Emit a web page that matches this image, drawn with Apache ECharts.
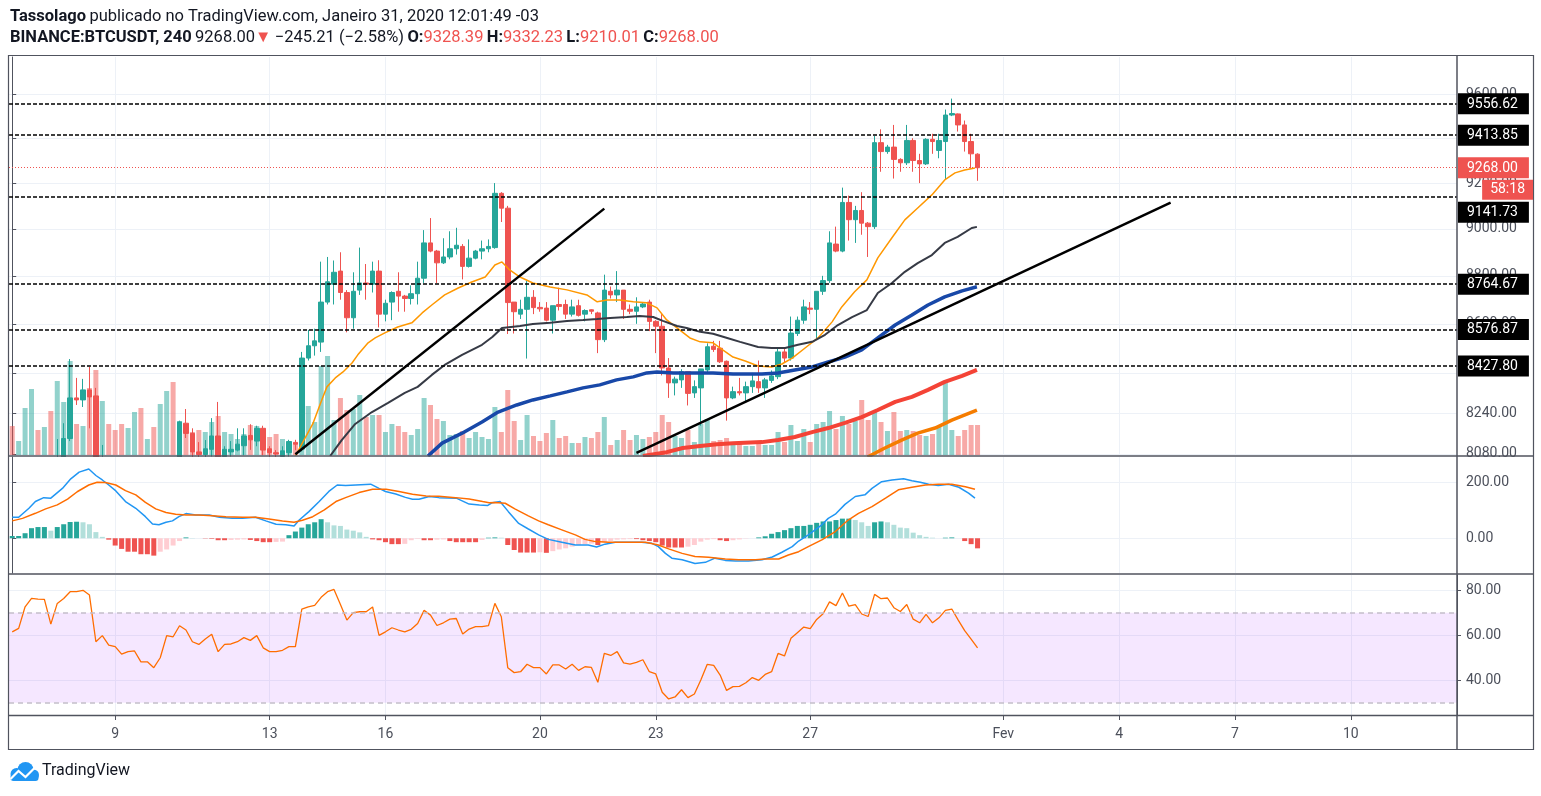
<!DOCTYPE html>
<html lang="pt-BR">
<head>
<meta charset="UTF-8">
<title>BINANCE:BTCUSDT, 240</title>
<style>
  html, body { margin: 0; padding: 0; background: #fff; }
  #chart { width: 1541px; height: 796px; }
</style>
<script src="https://cdn.jsdelivr.net/npm/echarts@6/dist/echarts.min.js"></script>
</head>
<body>
<div id="chart"></div>
<script>
// ---- data (4h candles, index 0 = 6 Jan 08:00) ----
var opens = [
  7790,7760,7785,7850,7930,7905,7960,7935,8060,8140,
  8300,8292,8332,8308,8050,8065,8000,7950,7880,7910,
  7960,7920,7940,7900,7960,8040,7980,8200,8160,8088,
  8078,8098,8150,8070,8088,8095,8112,8152,8130,8180,
  8100,8085,8070,8085,8125,8099,8460,8510,8525,8690,
  8765,8820,8730,8625,8740,8770,8765,8820,8640,8690,
  8735,8715,8705,8725,8790,8940,8905,8855,8880,8915,
  8925,8840,8875,8905,8915,8920,9155,9090,8690,8640,
  8660,8710,8668,8665,8615,8680,8680,8640,8675,8640,
  8658,8645,8535,8735,8720,8740,8660,8652,8670,8690,
  8610,8590,8420,8360,8372,8405,8320,8340,8412,8508,
  8500,8447,8300,8325,8320,8345,8365,8340,8370,8385,
  8485,8460,8560,8615,8665,8660,8735,8780,8935,8905,
  9115,9040,9080,9025,9010,9380,9340,9360,9305,9290,
  9390,9300,9285,9395,9345,9385,9505,9510,9460,9385,
  9328.39
];
var closes = [
  7760,7785,7850,7930,7905,7960,7935,8060,8140,8300,
  8292,8332,8304,8050,8065,8000,7950,7880,7910,7960,
  7920,7940,7900,7960,8040,7980,8205,8160,8088,8078,
  8100,8150,8060,8098,8098,8118,8150,8135,8180,8095,
  8085,8080,8092,8128,8118,8460,8510,8530,8690,8775,
  8815,8730,8625,8735,8770,8765,8820,8640,8685,8730,
  8715,8705,8725,8790,8940,8905,8855,8880,8915,8930,
  8840,8875,8905,8915,8925,9155,9090,8688,8650,8660,
  8710,8667,8662,8615,8675,8672,8640,8670,8635,8655,
  8652,8535,8740,8720,8740,8660,8652,8670,8682,8610,
  8590,8420,8360,8375,8405,8318,8345,8416,8506,8495,
  8445,8300,8325,8320,8345,8368,8340,8372,8388,8485,
  8460,8562,8615,8670,8660,8735,8780,8940,8905,9115,
  9040,9080,9025,9010,9380,9340,9360,9305,9290,9390,
  9300,9285,9395,9385,9390,9505,9512,9460,9385,9330,
  9268
];
var lows = [
  7740,7745,7770,7840,7890,7895,7920,7920,8040,8130,
  8272,8264,8180,8000,7980,7960,7900,7850,7860,7900,
  7900,7905,7880,7890,7950,7970,7970,8142,8060,8050,
  8060,8070,8040,8060,8070,8090,8075,8096,8110,8075,
  8060,8050,8050,8070,8095,8090,8450,8470,8485,8680,
  8680,8700,8565,8580,8720,8700,8730,8585,8610,8615,
  8650,8650,8680,8680,8770,8900,8770,8850,8870,8890,
  8785,8835,8870,8870,8900,8915,9030,8558,8560,8620,
  8458,8640,8650,8610,8560,8655,8620,8630,8630,8610,
  8640,8480,8525,8705,8690,8620,8640,8600,8665,8570,
  8480,8390,8300,8310,8340,8270,8300,8190,8400,8485,
  8440,8210,8295,8310,8280,8320,8320,8300,8360,8375,
  8440,8450,8550,8600,8640,8534,8720,8770,8900,8900,
  8950,8940,8975,8880,9000,9250,9330,9220,9250,9280,
  9250,9200,9280,9330,9310,9215,9500,9430,9340,9265,
  9210.01
];
var highs = [
  7820,7800,7860,7945,7940,7975,7975,8138,8200,8456,
  8380,8376,8424,8340,8115,8075,8010,7960,7920,7975,
  7970,7950,7950,7970,8060,8070,8210,8256,8180,8126,
  8134,8220,8284,8110,8130,8180,8180,8196,8190,8190,
  8110,8095,8110,8135,8135,8485,8575,8580,8860,8880,
  8865,8900,8740,8815,8920,8850,8860,8866,8700,8735,
  8815,8720,8760,8860,8995,9047,8910,8960,8990,9005,
  8935,8955,8910,8950,8955,9200,9160,9100,8690,8700,
  8778,8740,8690,8690,8675,8750,8700,8700,8700,8660,
  8660,8650,8805,8755,8820,8740,8680,8710,8690,8700,
  8615,8640,8460,8385,8415,8405,8370,8416,8520,8530,
  8530,8450,8345,8380,8365,8400,8450,8380,8410,8500,
  8500,8630,8630,8700,8690,8735,8800,8990,9010,9180,
  9145,9100,9160,9030,9410,9440,9370,9460,9310,9460,
  9400,9330,9400,9420,9420,9530,9580,9512,9480,9420,
  9332.23
];
var volumes = [
  1160,560,1880,2640,1000,1120,1760,2960,2120,3760,
  1240,1160,2680,3400,2160,1240,1000,1240,1080,1720,
  1880,640,1120,2040,2560,2920,1360,1240,920,1000,
  920,1320,1560,920,840,640,840,1200,1160,800,
  720,840,640,560,440,2400,1960,1320,3560,3960,
  1400,2280,1800,1840,2400,1520,1600,1600,920,1240,
  1160,920,800,1040,2280,2000,1440,1360,800,840,
  960,680,920,720,640,1920,920,2600,1360,600,
  1600,760,560,880,1400,680,760,480,480,720,
  680,920,1520,400,600,1000,600,800,640,720,
  920,1600,1320,760,680,1000,520,1240,1440,560,
  600,680,400,480,360,360,440,400,400,920,
  520,1200,560,1040,520,1240,1320,1760,1040,1560,
  1240,1360,2200,1400,1720,1320,960,1720,960,1000,
  960,800,760,840,1120,2920,1000,760,1000,1200,
  1200
];

// moving averages: [bar index, price]
var ema20 = [[44,8072],[45.5,8142],[46.7,8197],[48.1,8292],[48.9,8344],[50.2,8380],[51.4,8404],[52.8,8440],[53.7,8473],[55.3,8522],[56.4,8542],[57.9,8563],[59.9,8587],[62.1,8604],[63.7,8645],[65.2,8678],[67.2,8720],[69.3,8749],[71.4,8774],[73.5,8795],[75,8846],[76.1,8859],[77.3,8825],[78.9,8795],[80.9,8770],[83.6,8753],[86.2,8741],[89.3,8720],[90.9,8691],[92.4,8699],[94.4,8699],[96.5,8691],[98.6,8687],[100.2,8666],[101.7,8616],[103.3,8583],[105.3,8542],[106.9,8526],[108.9,8522],[110.4,8493],[112,8464],[113.9,8448],[115.9,8428],[118,8424],[119.6,8436],[121.2,8460],[123.2,8501],[125.2,8542],[127.4,8608],[128.9,8670],[130.9,8733],[132.8,8783],[134.5,8876],[136.7,8962],[138.7,9039],[140.7,9091],[142.9,9148],[144.9,9214],[146.5,9245],[148,9258],[149.6,9267]];
var ma50 = [[49.4,8072],[51.2,8134],[53.3,8197],[55.9,8244],[58.4,8280],[61,8320],[63,8344],[65.2,8392],[67.2,8432],[69.9,8473],[73,8514],[74.6,8546],[76.1,8583],[78.9,8591],[80.9,8599],[83.6,8604],[86.2,8612],[88.7,8616],[90.9,8620],[92.9,8624],[95.5,8628],[97.5,8632],[99.6,8628],[101.1,8612],[103.3,8591],[104.8,8583],[106.9,8567],[108.9,8559],[111.1,8542],[113.1,8526],[115.9,8505],[118,8501],[120.1,8501],[122.1,8514],[124.3,8526],[126.3,8555],[128.3,8595],[130.5,8628],[132.8,8657],[134.5,8728],[136.7,8770],[138.7,8817],[140.7,8854],[142.9,8888],[144.9,8940],[146.9,8966],[149.1,9004],[149.9,9009]];
var ma100 = [[64.6,8072],[66.8,8122],[69.9,8161],[73,8205],[75.5,8244],[78.4,8272],[80.9,8292],[83.6,8308],[86.2,8324],[88.7,8340],[91.3,8352],[93.9,8372],[96.5,8384],[98.6,8400],[100.2,8404],[102.7,8400],[105.8,8400],[108.9,8400],[112,8396],[116.5,8396],[119,8400],[121.6,8412],[124.3,8424],[126.8,8444],[129.4,8464],[132,8493],[134.5,8542],[137.2,8595],[139.8,8636],[142.3,8678],[144.9,8712],[147.6,8737],[149.9,8754]];
var ma200 = [[98,8072],[101.7,8087],[104.2,8103],[106.9,8111],[109.5,8118],[112,8122],[116.5,8126],[119,8134],[121.6,8146],[124.3,8165],[126.8,8181],[129.4,8201],[132,8224],[134.5,8252],[137.2,8284],[139.8,8304],[142.3,8332],[144.9,8364],[147.6,8388],[149.9,8412]];
var maSlow = [[132.9,8068],[135.6,8103],[138.2,8134],[140.7,8161],[143.4,8181],[146,8212],[149.9,8252]];

// drawn levels and trend lines
var levels = [9556.62, 9413.85, 9141.73, 8764.67, 8576.87, 8427.80];
var lastPrice = 9268.00;
var trend1 = [[44, 8079], [92, 9088]];
var trend2 = [[97, 8084], [180, 9114]];

// MACD
var macdLine = [[0,75],[1,75],[2.6,107],[3.6,131],[4.9,145],[6,143],[7.8,178],[9.1,212],[10.4,236],[11.9,247],[13,224],[14,208],[15,190],[16.1,169],[17.6,131],[19.2,107],[20.7,77],[21.8,51],[22.8,48],[23.9,57],[24.9,62],[25.9,77],[27,88],[28.5,83],[30.6,83],[32.2,75],[34.2,71],[35.8,71],[37.8,75],[39.4,62],[41,50],[42.5,48],[43.8,44],[44.6,65],[46.1,95],[47.7,131],[49.2,167],[50.5,190],[51.8,188],[53.4,190],[55.7,193],[57,178],[58,167],[59.6,158],[61.1,146],[62.2,139],[63.2,139],[64.8,149],[66.3,145],[69,143],[71,122],[72.6,119],[73.9,117],[74.6,127],[75.8,131],[77.1,95],[78.7,53],[80.2,33],[81.8,12],[83.3,-4],[85.4,-14],[87.5,-24],[89.5,-24],[90.8,-31],[92.1,-21],[93.7,-14],[95.8,-14],[97.8,-14],[99.4,-18],[100.4,-30],[101.5,-54],[102.5,-71],[104.1,-77],[106.1,-90],[107.7,-86],[109.2,-71],[110.8,-79],[112.4,-81],[114.4,-81],[116.5,-77],[118.1,-67],[119.6,-50],[121.2,-30],[122.2,-10],[123.7,12],[125.8,48],[126.8,71],[127.9,86],[129.4,121],[131,149],[132.5,155],[133.6,178],[135.1,202],[136.7,208],[138.5,212],[139.8,205],[141.1,200],[142.4,193],[143.9,188],[145.5,193],[147.1,182],[148.6,161],[149.6,143]];
var signalLine = [[0,62],[1.6,71],[3.6,89],[5.2,105],[7,119],[8.6,140],[10.1,166],[11.9,190],[13.2,200],[14.5,199],[16.1,190],[17.6,170],[19.2,155],[20.7,128],[22.3,105],[23.9,92],[25.4,86],[27,83],[29,83],[31.1,80],[33.2,77],[35.8,75],[37.8,75],[39.9,69],[42,62],[43.8,57],[45.1,64],[46.7,77],[48.5,101],[50.3,131],[51.8,145],[53.9,163],[56,175],[58.1,175],[60.1,167],[62.2,157],[64.3,151],[66.3,150],[68.9,145],[71,140],[73.1,131],[74.1,127],[75,128],[76.6,125],[78.1,105],[80.2,80],[81.8,62],[83.3,48],[85.4,30],[87.5,12],[89,-4],[90.6,-12],[92.7,-14],[95.8,-14],[98.4,-14],[100.4,-24],[102,-38],[104.1,-54],[106.1,-65],[108.2,-68],[110.8,-74],[112.9,-77],[115.5,-77],[117,-74],[119.1,-74],[120.6,-60],[122.2,-48],[123.7,-30],[125.8,-6],[127.9,24],[129.9,65],[131.5,89],[133.6,113],[135.7,143],[137.7,173],[139.8,182],[141.9,190],[143.9,193],[146,193],[148.1,184],[149.6,175]];
var macdHist = [
  8,8,18,36,40,40,27,40,50,58,
  59,57,50,22,5,-5,-26,-38,-48,-48,
  -57,-57,-62,-48,-40,-26,-10,3,1,0,
  -1,-2,-7,-7,-6,-5,-4,-6,-10,-14,
  -14,-13,-12,11,24,38,50,57,68,57,
  46,44,31,27,21,5,-4,-7,-14,-21,
  -21,-20,-7,-2,-7,-7,-5,-4,-10,-14,
  -14,-14,-14,-6,2,3,2,-24,-42,-51,
  -51,-51,-50,-52,-46,-40,-36,-30,-24,-21,
  -19,-24,-14,-10,-5,-4,-3,-3,-7,-10,
  -14,-26,-33,-33,-33,-30,-24,-12,-5,-3,
  -7,-10,-7,-4,-1,0,3,7,16,22,
  29,36,44,44,48,55,60,60,65,70,
  70,65,57,44,57,60,57,48,38,36,
  20,11,5,2,0,2,3,0,-10,-21,
  -36
];

// RSI
var rsi = [
  61.5,63,72.6,76.3,76,75.9,64.9,74.1,76.3,79.3,
  79.3,79.9,77.8,57.1,59.8,55.6,54.9,51.6,52.7,53,
  48.2,48.2,45.6,50,59.8,59.3,64.2,62.3,57.1,55.9,
  58.3,60.4,52.7,55.9,56.1,57.1,58.9,57.7,59.8,54.4,
  52.7,52.7,53.3,54.9,54.9,71.6,72.6,73.2,76.8,79.3,
  80.3,73.6,66.7,70,70.4,70.4,72.5,59.9,61.5,63.3,
  62.3,61.5,62.6,65.2,71,68.9,64.3,65.5,67.1,67.4,
  60.5,62.7,63.8,63.8,64.2,74.1,68.2,45.6,43.4,43.8,
  47.1,45.6,45.6,42.8,46.8,46.8,45,47.1,44.4,46,
  45.7,39.1,51.9,51,52.7,47.7,47.2,47.9,49.1,43.8,
  42.8,34.7,31.7,32.6,35.8,32.3,33.9,40.1,47.1,46.6,
  42.3,35.5,37.2,37.3,38.9,41.2,40,42.6,43.8,51.9,
  50.8,58.6,61.1,63.6,62.9,67,69.5,74.8,73.1,78.7,
  72.9,73.6,69.4,68.3,78.1,76.2,76.5,72.2,70.5,73.6,
  67.1,65.5,69.2,65.5,67.7,71,71.6,66.7,62,58.3,
  54.4
];

// axis ticks
var priceTicks = [8080, 8240, 8400, 8600, 8800, 9000, 9200, 9400, 9600];
var macdTicks = [0, 200];
var rsiTicks = [40, 60, 80];
var tickIdx = [16, 40, 58, 82, 100, 124, 154, 172, 190, 208];
var tickText = ['9', '13', '16', '20', '23', '27', 'Fev', '4', '7', '10'];

// ---- layout / style ----
var SLOTS = 225;
var LEFT = 9, RIGHT_X = 1457, WIDTH = RIGHT_X - LEFT;
var FONT = 'Roboto, "Noto Sans", sans-serif';
var upColor = '#26a69a', downColor = '#ef5350';
var textColor = '#4c505b', lineColor = '#50535e', gridColor = '#edf1f7';

var cats = [];
for (var k = 0; k < SLOTS; k++) cats.push(String(k));

var chart = echarts.init(document.getElementById('chart'));

function isTick(i) { return tickIdx.indexOf(+i) >= 0; }

function catAxis(gridIndex, showLabels, z) {
    return {
        type: 'category', gridIndex: gridIndex, data: cats, boundaryGap: true, z: z || 0,
        axisLine: { show: false },
        axisTick: {
            show: showLabels, alignWithLabel: true, interval: isTick, length: 5,
            lineStyle: { color: lineColor }
        },
        axisLabel: {
            show: showLabels, interval: isTick, margin: 12,
            color: textColor, fontFamily: FONT, fontSize: 14,
            formatter: function (v) { return tickText[tickIdx.indexOf(+v)]; }
        },
        splitLine: {
            show: gridIndex !== 1, interval: isTick, alignWithLabel: true,
            lineStyle: { color: gridColor, width: 1 }
        }
    };
}

function valAxisX(gridIndex) {
    return { type: 'value', gridIndex: gridIndex, min: -0.5, max: SLOTS - 0.5, show: false };
}

function priceAxis(gridIndex, extra) {
    var base = {
        gridIndex: gridIndex, position: 'right',
        axisLine: { show: true, lineStyle: { color: lineColor } },
        axisTick: { show: true, length: 4, lineStyle: { color: lineColor } },
        axisLabel: {
            color: textColor, fontFamily: FONT, fontSize: 14, margin: 9,
            formatter: function (v) { return v.toFixed(2); }
        },
        splitLine: { show: true, lineStyle: { color: gridColor } }
    };
    base.axisTick.customValues = extra.ticks;
    base.axisLabel.customValues = extra.ticks;
    delete extra.ticks;
    return Object.assign(base, extra);
}

var candleData = opens.map(function (o, i) { return [o, closes[i], lows[i], highs[i]]; });

var volData = volumes.map(function (v, i) {
    return { value: v, itemStyle: { color: closes[i] >= opens[i] ? 'rgba(38,166,154,0.5)' : 'rgba(239,83,80,0.5)' } };
});

var histData = macdHist.map(function (v, i) {
    var prev = i > 0 ? macdHist[i - 1] : v;
    var c;
    if (v >= 0) c = v >= prev ? '#26a69a' : '#b2dfdb';
    else c = v <= prev ? '#ef5350' : '#ffcdd2';
    return { value: v, itemStyle: { color: c } };
});

// price tag boxes on the right scale; 9141.73 is pushed down below the countdown box
function tagLabel(v, bg, shift) {
    return {
        show: true, position: 'end', distance: 1,
        formatter: '{t|' + v.toFixed(2) + '}',
        padding: shift ? [shift * 2, 0, 0, 0] : 0,
        rich: {
            t: {
                backgroundColor: bg, color: '#fff', padding: [4, 11, 3, 9],
                fontFamily: FONT, fontSize: 14
            }
        }
    };
}

var levelLines = levels.map(function (v) {
    return {
        yAxis: v,
        lineStyle: { color: '#000', type: [4, 2], width: 1.7 },
        label: tagLabel(v, '#000', v === 9141.73 ? 16 : 0)
    };
});
levelLines.push({
    yAxis: lastPrice,
    lineStyle: { color: downColor, type: [1, 2], width: 1 },
    label: tagLabel(lastPrice, downColor, 0)
});

function maSeries(name, data, color, width, z) {
    return {
        name: name, type: 'line', xAxisIndex: 4, yAxisIndex: 0, data: data,
        showSymbol: false, symbol: 'none', smooth: false, z: z,
        lineStyle: { color: color, width: width }
    };
}

var ema = maSeries('EMA 20', ema20, '#ff9800', 1.5, 4);
ema.markLine = {
    silent: true, symbol: ['none', 'none'], animation: false,
    label: { show: false },
    lineStyle: { color: '#000', width: 2.5, type: 'solid' },
    data: [trend1, trend2].map(function (t) { return [{ coord: t[0] }, { coord: t[1] }]; })
};

var macdAxisX = valAxisX(2);
macdAxisX.z = 11;
var macdAxisY = priceAxis(2, { type: 'value', min: -124, max: 290, ticks: macdTicks });
macdAxisY.z = 11;

var option = {
    animation: false,
    backgroundColor: '#fff',
    grid: [
        { left: LEFT, top: 57, width: WIDTH, height: 398 },
        { left: LEFT, top: 57, width: WIDTH, height: 398 },
        // white pane on top so candles below the price scale do not spill into it
        { left: LEFT, top: 457, width: WIDTH, height: 116, show: true, backgroundColor: '#fff', borderWidth: 0, z: 10 },
        { left: LEFT, top: 575, width: WIDTH, height: 140 }
    ],
    xAxis: [
        catAxis(0, false), catAxis(1, false), catAxis(2, false, 11), catAxis(3, true),
        valAxisX(0), macdAxisX
    ],
    yAxis: [
        priceAxis(0, { type: 'log', logBase: 10, min: 8076, max: 9773, ticks: priceTicks }),
        { type: 'value', gridIndex: 1, min: 0, max: 15920, show: false },
        macdAxisY,
        priceAxis(3, { type: 'value', min: 24.6, max: 86.7, ticks: rsiTicks })
    ],
    series: [
        {
            name: 'Volume', type: 'bar', xAxisIndex: 1, yAxisIndex: 1,
            data: volData, barWidth: 5, z: 1
        },
        {
            name: 'BTCUSDT', type: 'candlestick', xAxisIndex: 0, yAxisIndex: 0,
            data: candleData, barWidth: 5, z: 3, clip: true,
            itemStyle: { color: upColor, color0: downColor, borderColor: upColor, borderColor0: downColor, borderWidth: 1 },
            markLine: { silent: true, symbol: ['none', 'none'], animation: false, data: levelLines }
        },
        ema,
        maSeries('MA 50', ma50, '#363a45', 2, 4),
        maSeries('MA 100', ma100, '#1848a8', 3.5, 4),
        maSeries('MA 200', ma200, '#f44336', 4, 4),
        maSeries('MA slow', maSlow, '#f57c00', 3.5, 4),
        {
            name: 'Histogram', type: 'bar', xAxisIndex: 2, yAxisIndex: 2,
            data: histData, barWidth: 5, z: 12
        },
        {
            name: 'MACD', type: 'line', xAxisIndex: 5, yAxisIndex: 2, data: macdLine,
            symbol: 'none', z: 13, lineStyle: { color: '#2196f3', width: 1.5 }
        },
        {
            name: 'Signal', type: 'line', xAxisIndex: 5, yAxisIndex: 2, data: signalLine,
            symbol: 'none', z: 13, lineStyle: { color: '#ff6d00', width: 1.5 }
        },
        {
            name: 'RSI', type: 'line', xAxisIndex: 3, yAxisIndex: 3, data: rsi,
            symbol: 'none', z: 3, lineStyle: { color: '#ff6d00', width: 1.3 },
            markArea: {
                silent: true,
                itemStyle: { color: 'rgba(153,21,255,0.1)' },
                data: [[{ yAxis: 30 }, { yAxis: 70 }]]
            },
            markLine: {
                silent: true, symbol: ['none', 'none'], label: { show: false },
                lineStyle: { color: '#c3bfca', type: [5, 4], width: 1.5 },
                data: [{ yAxis: 70 }, { yAxis: 30 }]
            }
        }
    ]
};

chart.setOption(option);

// overlay: header, frame, separators, countdown box, logo
var yLast = chart.convertToPixel({ yAxisIndex: 0 }, lastPrice);
var sepStyle = { stroke: lineColor, lineWidth: 1.5 };
var headFont = { fontSize: 16.5, fontFamily: FONT };
chart.setOption({
    graphic: [
        {
            type: 'text', left: 10, top: 8, z: 100,
            style: {
                text: '{b|Tassolago} {n|publicado no TradingView.com, Janeiro 31, 2020 12:01:49 -03}',
                rich: {
                    b: Object.assign({ fontWeight: 'bold', fill: '#131722' }, headFont),
                    n: Object.assign({ fill: '#131722' }, headFont)
                }
            }
        },
        {
            type: 'text', left: 10, top: 29, z: 100,
            style: {
                text: '{b|BINANCE:BTCUSDT, 240} {n|9268.00}{r|▼} {n|−245.21 (−2.58%)} {b|O:}{r|9328.39} {b|H:}{r|9332.23} {b|L:}{r|9210.01} {b|C:}{r|9268.00}',
                rich: {
                    b: Object.assign({ fontWeight: 'bold', fill: '#131722' }, headFont),
                    n: Object.assign({ fill: '#131722' }, headFont),
                    r: Object.assign({ fill: downColor }, headFont)
                }
            }
        },
        { type: 'rect', z: 100, shape: { x: 8.5, y: 55.5, width: 1525, height: 694 }, style: { fill: 'none', stroke: lineColor, lineWidth: 1.2 }, silent: true },
        { type: 'line', z: 100, shape: { x1: RIGHT_X, y1: 55, x2: RIGHT_X, y2: 750 }, style: sepStyle, silent: true },
        { type: 'line', z: 100, shape: { x1: 8, y1: 456, x2: 1533, y2: 456 }, style: sepStyle, silent: true },
        { type: 'line', z: 100, shape: { x1: 8, y1: 574, x2: 1533, y2: 574 }, style: sepStyle, silent: true },
        { type: 'line', z: 100, shape: { x1: 8, y1: 715.5, x2: 1533, y2: 715.5 }, style: sepStyle, silent: true },
        {
            type: 'text', x: 1533, y: yLast + 12, z: 100,
            style: {
                text: '58:18', fontSize: 14, fontFamily: FONT, fill: '#fff', align: 'right', verticalAlign: 'top',
                backgroundColor: downColor, padding: [3, 8, 3, 8]
            }
        },
        {
            type: 'group', left: 8, top: 762,
            children: [
                { type: 'circle', shape: { cx: 9, cy: 12, r: 6 }, style: { fill: '#2196f3' } },
                { type: 'circle', shape: { cx: 18, cy: 8, r: 8 }, style: { fill: '#2196f3' } },
                { type: 'circle', shape: { cx: 26, cy: 13, r: 5.5 }, style: { fill: '#2196f3' } },
                { type: 'rect', shape: { x: 3, y: 12, width: 28, height: 7, r: 3 }, style: { fill: '#2196f3' } },
                { type: 'polyline', shape: { points: [[3, 17], [11, 9], [18, 15], [27, 6]] }, style: { stroke: '#fff', lineWidth: 2.2, fill: 'none' } }
            ]
        },
        {
            type: 'text', left: 42, top: 763,
            style: { text: 'TradingView', fontSize: 16, fontFamily: FONT, fill: '#131722' }
        }
    ]
});
</script>
</body>
</html>
